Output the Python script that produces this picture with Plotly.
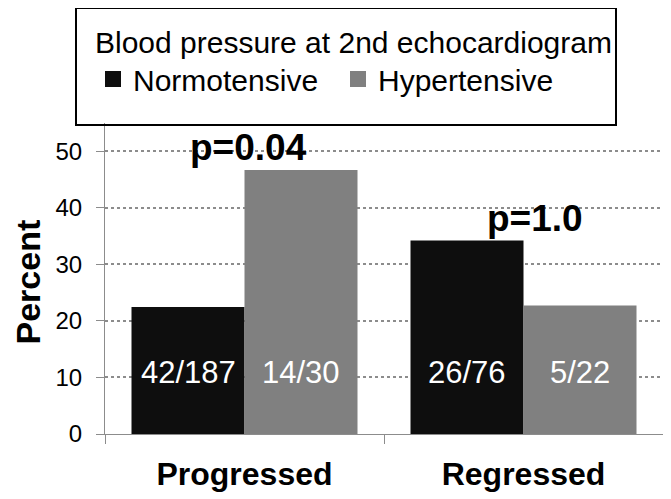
import plotly.graph_objects as go

categories = ["Progressed", "Regressed"]
normotensive = [42 / 187 * 100, 26 / 76 * 100]
hypertensive = [14 / 30 * 100, 5 / 22 * 100]
normo_labels = ["42/187", "26/76"]
hyper_labels = ["14/30", "5/22"]
p_values = ["p=0.04", "p=1.0"]
y_ticks = [0, 10, 20, 30, 40, 50]

NORMO_COLOR = "#0e0e0e"
HYPER_COLOR = "#808080"
FONT = "Liberation Sans, Arial, sans-serif"
W, H = 671, 499
OFF = 8  # page body margin offset in the browser
# plot area in screen pixels
PL, PR, PT, PB = 105, 663, 123, 434
ML, MR, MT, MB = PL - OFF, W - (PR - OFF), PT - OFF, H - (PB - OFF)
PW, PH = W - ML - MR, H - MT - MB


def px_x(p):
    return (p - OFF - ML) / PW


def px_y(p):
    return (H - MB - (p - OFF)) / PH


fig = go.Figure()
fig.add_trace(go.Bar(name="Normotensive", x=categories, y=normotensive, legendgroup="n",
                     showlegend=False, marker=dict(color=NORMO_COLOR, line=dict(width=0))))
fig.add_trace(go.Bar(name="Hypertensive", x=categories, y=hypertensive, legendgroup="h",
                     showlegend=False, marker=dict(color=HYPER_COLOR, line=dict(width=0))))
# legend entries with larger square swatches
fig.add_trace(go.Scatter(name="Normotensive", x=[None], y=[None], mode="markers", legendgroup="n",
                         marker=dict(symbol="square", size=16, color=NORMO_COLOR)))
fig.add_trace(go.Scatter(name="Hypertensive", x=[None], y=[None], mode="markers", legendgroup="h",
                         marker=dict(symbol="square", size=16, color=HYPER_COLOR)))

ann = []
for i, c in enumerate(categories):
    ann.append(dict(x=c, y=10.9, xref="x", yref="y", text=normo_labels[i], showarrow=False,
                    xshift=-56.5, font=dict(family=FONT, size=31, color="white")))
    ann.append(dict(x=c, y=10.9, xref="x", yref="y", text=hyper_labels[i], showarrow=False,
                    xshift=56.5, font=dict(family=FONT, size=31, color="white")))
ann.append(dict(x=categories[0], y=50.6, xref="x", yref="y", text="<b>" + p_values[0] + "</b>",
                showarrow=False, xshift=4, font=dict(family=FONT, size=37, color="black")))
ann.append(dict(x=categories[1], y=38.2, xref="x", yref="y", text="<b>" + p_values[1] + "</b>",
                showarrow=False, xshift=11, font=dict(family=FONT, size=37, color="black")))
ann.append(dict(x=px_x(27.5), y=px_y(282), xref="paper", yref="paper", text="<b>Percent</b>",
                xanchor="center", yanchor="middle",
                textangle=-90, showarrow=False, font=dict(family=FONT, size=34, color="black")))

fig.update_layout(
    width=W, height=H,
    margin=dict(l=ML, r=MR, t=MT, b=MB, pad=0, autoexpand=False),
    paper_bgcolor="white", plot_bgcolor="white",
    barmode="group", bargap=0.19, bargroupgap=0,
    font=dict(family=FONT, color="black"),
    annotations=ann,
    showlegend=True,
    legend=dict(
        orientation="h",
        x=px_x(93), xanchor="left",
        y=px_y(14), yanchor="top",
        title=dict(text="Blood pressure at 2nd echocardiogram", side="top",
                   font=dict(family=FONT, size=30, color="black")),
        font=dict(family=FONT, size=30, color="black"),
        bgcolor="rgba(0,0,0,0)",
        borderwidth=0,
        entrywidth=200,
    ),
    shapes=[dict(type="rect", xref="paper", yref="paper",
                 x0=px_x(76), x1=px_x(616), y0=px_y(125), y1=px_y(8),
                 line=dict(color="black", width=2), fillcolor="rgba(0,0,0,0)")],
    xaxis=dict(
        automargin=False,
        showline=True, linecolor="#8c8c8c", linewidth=1,
        ticks="outside", tickson="boundaries", ticklen=9, tickcolor="#8c8c8c",
        tickfont=dict(family=FONT, size=32, color="black"),
        ticklabelstandoff=12,
        showgrid=False,
        tickprefix="<b>", ticksuffix="</b>",
    ),
    yaxis=dict(
        automargin=False,
        range=[0, 55], tickvals=y_ticks,
        showline=True, linecolor="#8c8c8c", linewidth=1,
        ticks="outside", ticklen=8, tickcolor="#8c8c8c",
        tickfont=dict(family=FONT, size=24, color="black"),
        ticklabelstandoff=9,
        showgrid=True, gridcolor="#8c8c8c", griddash="dot", gridwidth=1.5,
        zeroline=False,
    ),
)

fig.write_html("out.html")
